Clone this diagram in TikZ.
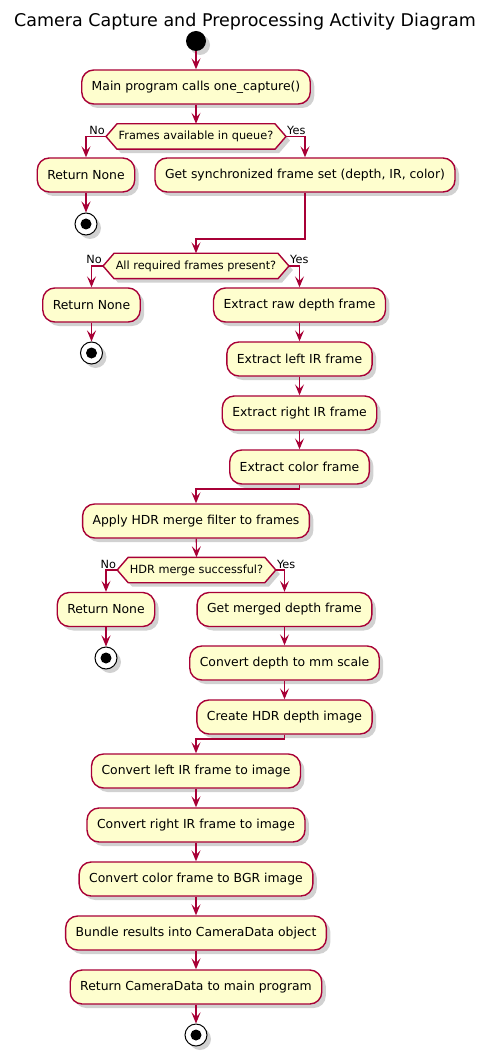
\documentclass[tikz,border=0pt]{standalone}
\usepackage{fontspec}
\setmainfont{DejaVu Sans}
\usetikzlibrary{arrows.meta,shadows,backgrounds}
\definecolor{pfill}{HTML}{FEFECE}
\definecolor{pline}{HTML}{A80036}
\tikzset{
 dshadow/.style={drop shadow={shadow xshift=4pt, shadow yshift=-4pt, fill=black, opacity=0.18}},
 act/.style={draw=pline, fill=pfill, line width=1.4pt, rounded corners=12pt, minimum height=34pt, inner xsep=10pt, inner ysep=0pt, font=\fontsize{12.4}{15}\selectfont, text=black, dshadow},
 dtext/.style={inner xsep=12.5pt, inner ysep=0pt, minimum height=25pt, font=\fontsize{11.3}{13}\selectfont},
 hexa/.style={draw=pline, fill=pfill, line width=1.4pt, dshadow},
 lbl/.style={font=\fontsize{11.3}{13}\selectfont, inner sep=0pt},
 flow/.style={draw=pline, line width=1.1pt, -{Stealth[length=11pt,width=9pt,inset=4.5pt]}},
 startc/.style={circle, fill=black, minimum size=20pt, inner sep=0pt, dshadow},
 stopc/.style={circle, draw=black, fill=white, line width=1pt, minimum size=22pt, inner sep=0pt, dshadow,
   path picture={\fill[black] (path picture bounding box.center) circle (5.5pt);}},
}
\newcommand\hexpath[1]{(#1.west) -- ([xshift=11pt]#1.north west) -- ([xshift=-11pt]#1.north east) -- (#1.east) -- ([xshift=-11pt]#1.south east) -- ([xshift=11pt]#1.south west) -- cycle}
\begin{document}
\begin{tikzpicture}[x=1pt,y=-1pt]
\useasboundingbox (0,0) rectangle (490,1056);
\node[font=\fontsize{17.5}{20}\selectfont, anchor=base, inner sep=0pt] (title) at (245,27) {Camera Capture and Preprocessing Activity Diagram};
\node[startc] (start) at (196,41) {};
\node[act] (main) at (196,87) {Main program calls one\_capture()};
\node[dtext] (d1) at (196,136.5) {Frames available in queue?};
\node[act] (rn1) at (86,175) {Return None};
\node[stopc] (s1) at (86,224) {};
\node[act] (sync) at (305,175) {Get synchronized frame set (depth, IR, color)};
\coordinate (m1) at (196,239);
\node[dtext] (d2) at (196,266) {All required frames present?};
\node[act] (rn2) at (91.5,305) {Return None};
\node[stopc] (s2) at (91.5,353) {};
\node[act] (raw) at (299.5,305) {Extract raw depth frame};
\node[act] (lir) at (299.5,359) {Extract left IR frame};
\node[act] (rir) at (299.5,413) {Extract right IR frame};
\node[act] (col) at (299.5,467) {Extract color frame};
\coordinate (m2) at (196,489);
\node[act] (hdr) at (196,521) {Apply HDR merge filter to frames};
\node[dtext] (d3) at (196.5,570) {HDR merge successful?};
\node[act] (rn3) at (106,609.5) {Return None};
\node[stopc] (s3) at (106,658) {};
\node[act] (gm) at (284.5,609.5) {Get merged depth frame};
\node[act] (mm) at (284.5,663) {Convert depth to mm scale};
\node[act] (chd) at (284.5,717) {Create HDR depth image};
\coordinate (m3) at (196,739);
\node[act] (cl) at (196,771) {Convert left IR frame to image};
\node[act] (cr) at (196,825) {Convert right IR frame to image};
\node[act] (cc) at (196,879) {Convert color frame to BGR image};
\node[act] (bd) at (196,933) {Bundle results into CameraData object};
\node[act] (rcd) at (196,987) {Return CameraData to main program};
\node[stopc] (s4) at (196,1035) {};
\begin{scope}[on background layer]
\draw[hexa] \hexpath{d1};
\draw[hexa] \hexpath{d2};
\draw[hexa] \hexpath{d3};
\end{scope}
\node[lbl, anchor=base east] (n1) at ([xshift=-1pt,yshift=2pt]d1.west) {No};
\node[lbl, anchor=base west] (y1) at ([xshift=1pt,yshift=2pt]d1.east) {Yes};
\node[lbl, anchor=base east] (n2) at ([xshift=-1pt,yshift=2pt]d2.west) {No};
\node[lbl, anchor=base west] (y2) at ([xshift=1pt,yshift=2pt]d2.east) {Yes};
\node[lbl, anchor=base east] (n3) at ([xshift=-1pt,yshift=2pt]d3.west) {No};
\node[lbl, anchor=base west] (y3) at ([xshift=1pt,yshift=2pt]d3.east) {Yes};
\draw[flow] (start) -- (main);
\draw[flow] (main) -- (d1.north);
\draw[flow] (d1.west) -| (rn1.north);
\draw[flow] (d1.east) -| (sync.north);
\draw[flow] (rn1) -- (s1);
\draw[flow] (sync.south) |- (m1) -- (d2.north);
\draw[flow] (d2.west) -| (rn2.north);
\draw[flow] (d2.east) -| (raw.north);
\draw[flow] (rn2) -- (s2);
\draw[flow] (raw) -- (lir);
\draw[flow] (lir) -- (rir);
\draw[flow] (rir) -- (col);
\draw[flow] (col.south) |- (m2) -- (hdr.north);
\draw[flow] (hdr) -- (d3.north);
\draw[flow] (d3.west) -| (rn3.north);
\draw[flow] (d3.east) -| (gm.north);
\draw[flow] (rn3) -- (s3);
\draw[flow] (gm) -- (mm);
\draw[flow] (mm) -- (chd);
\draw[flow] (chd.south) |- (m3) -- (cl.north);
\draw[flow] (cl) -- (cr);
\draw[flow] (cr) -- (cc);
\draw[flow] (cc) -- (bd);
\draw[flow] (bd) -- (rcd);
\draw[flow] (rcd) -- (s4);
\end{tikzpicture}
\end{document}
